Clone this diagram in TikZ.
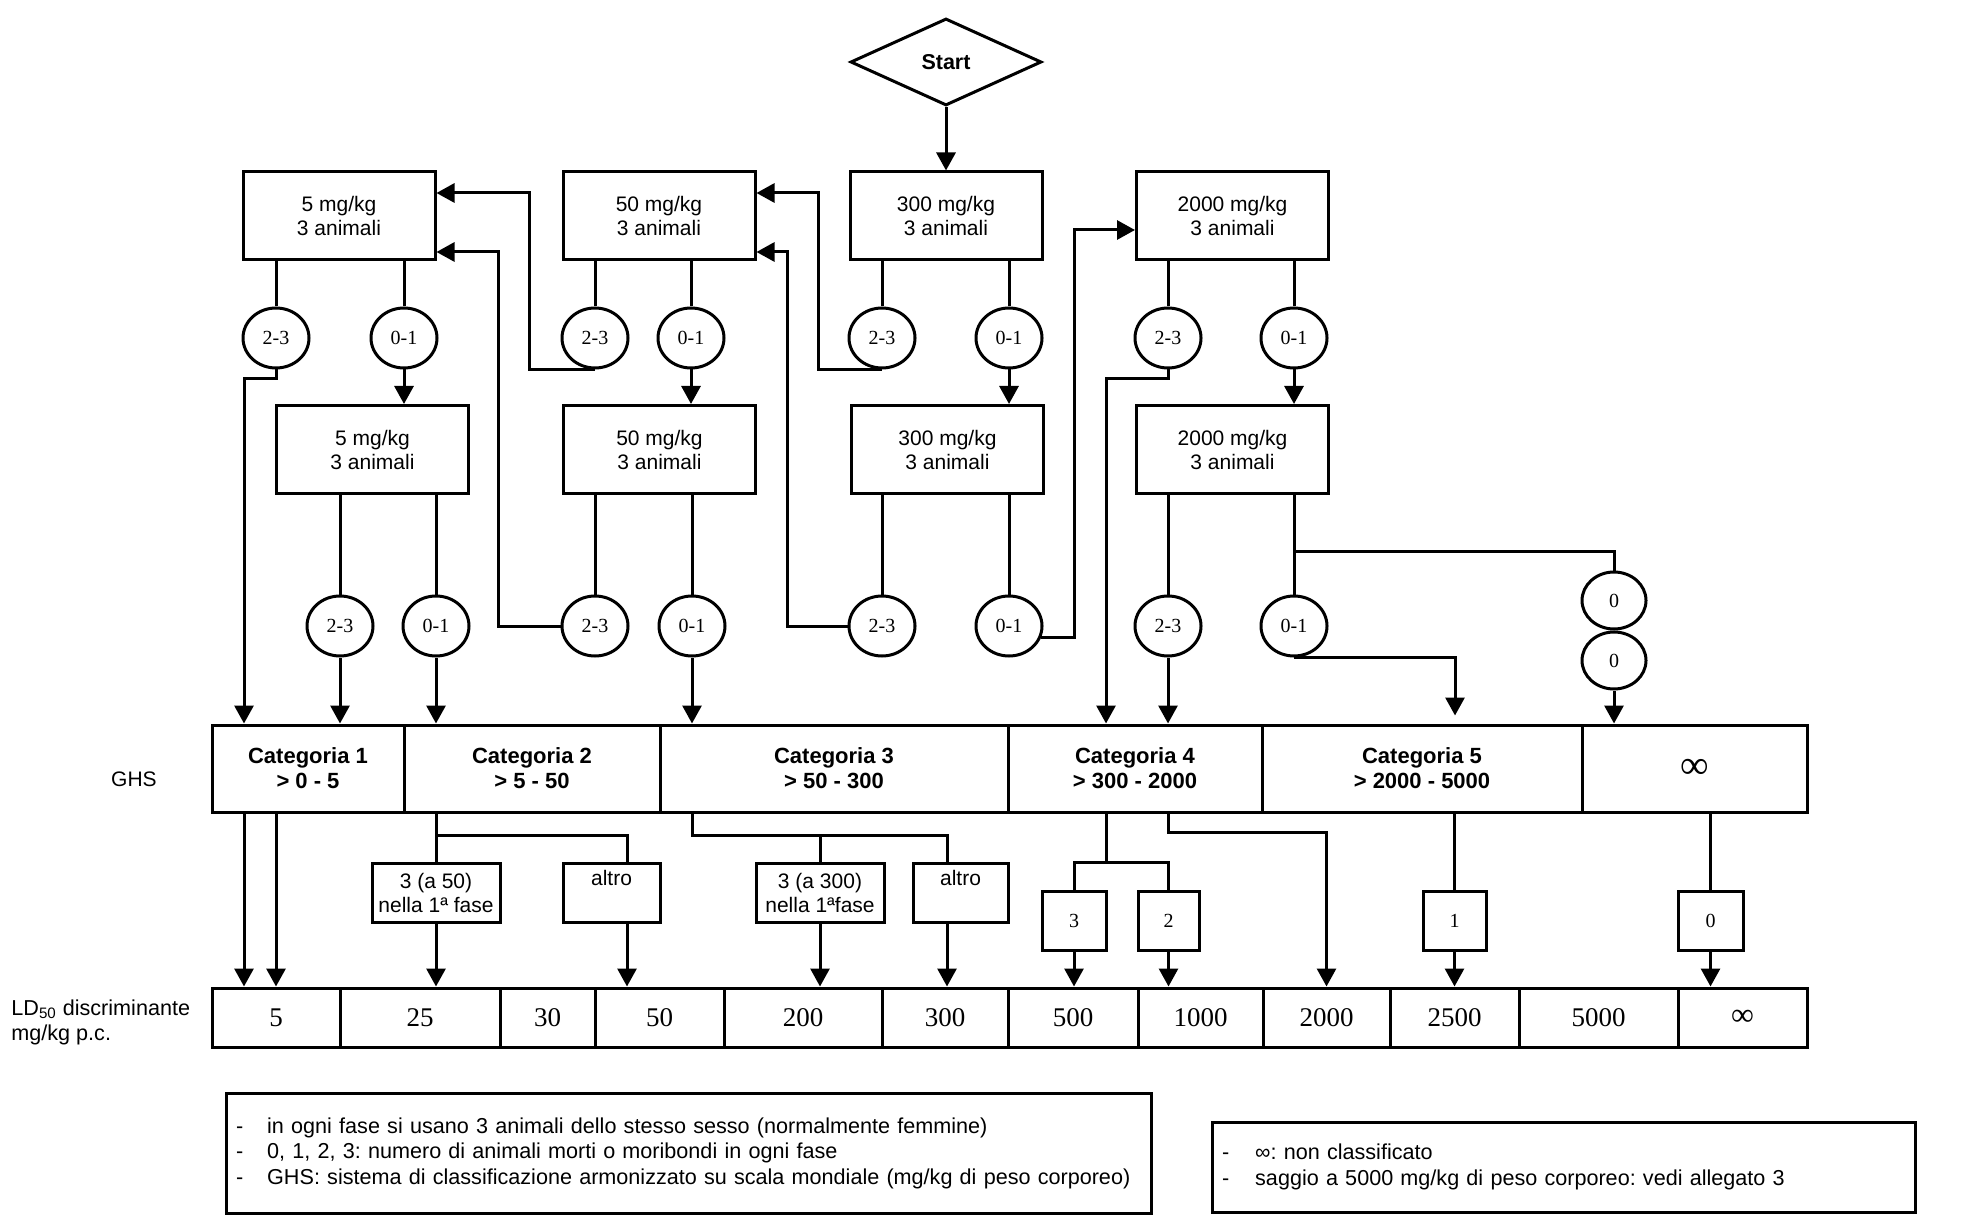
\documentclass[tikz,border=0pt]{standalone}
\usepackage{fontspec}
\setmainfont{Liberation Sans}
\newfontfamily\serifrm{Liberation Serif}
\usetikzlibrary{shapes.geometric,arrows.meta}
\newcommand\boxfont{\fontsize{10.5}{12}\selectfont}
\newcommand\catfont{\fontsize{11}{12.5}\selectfont\bfseries}
\newcommand\circfont{\serifrm\fontsize{10}{12}\selectfont}
\newcommand\ldfont{\serifrm\fontsize{13.5}{14}\selectfont}
\newcommand\legfont{\fontsize{10.8}{12.75}\selectfont}
\frenchspacing
\begin{document}
\begin{tikzpicture}[x=0.5pt,y=-0.5pt,
  ln/.style={line width=1.5pt},
  arr/.style={line width=1.5pt,-{Triangle[length=9pt,width=9.5pt]}},
  bx/.style={draw,line width=1.5pt,inner sep=0pt,align=center,font=\boxfont},
  dose/.style={bx,minimum width=96pt,minimum height=44pt},
  circ/.style={draw,line width=1.5pt,ellipse,minimum width=33pt,minimum height=30pt,inner sep=0pt,font=\circfont},
  cat/.style={bx,minimum height=43.5pt,font=\catfont},
  ld/.style={bx,minimum height=29.5pt,font=\ldfont},
  mid/.style={bx,minimum height=29.5pt},
  num/.style={bx,minimum height=29.5pt,font=\circfont},
  legend/.style={draw,line width=1.5pt,inner xsep=5pt,inner ysep=0pt,align=left,font=\legfont}
]
\useasboundingbox (0,0) rectangle (1969,1229);

% start
\node[draw,diamond,line width=1.5pt,minimum width=95.5pt,minimum height=43.5pt,inner sep=0pt,font=\fontsize{10.75}{12}\selectfont\bfseries] (start) at (946,62) {Start};

% dose boxes
\node[dose] (a1) at (339,216) {5 mg/kg\\3 animali};
\node[dose] (b1) at (659,216) {50 mg/kg\\3 animali};
\node[dose] (c1) at (946,216) {300 mg/kg\\3 animali};
\node[dose] (d1) at (1232.5,216) {2000 mg/kg\\3 animali};
\node[dose] (a2) at (372.5,449.5) {5 mg/kg\\3 animali};
\node[dose] (b2) at (659.5,449.5) {50 mg/kg\\3 animali};
\node[dose] (c2) at (947.5,449.5) {300 mg/kg\\3 animali};
\node[dose] (d2) at (1232.5,449.5) {2000 mg/kg\\3 animali};

% circles row 1
\node[circ] (a1l) at (276,338) {2-3};
\node[circ] (a1r) at (404,338) {0-1};
\node[circ] (b1l) at (595,338) {2-3};
\node[circ] (b1r) at (691,338) {0-1};
\node[circ] (c1l) at (882,338) {2-3};
\node[circ] (c1r) at (1009,338) {0-1};
\node[circ] (d1l) at (1168,338) {2-3};
\node[circ] (d1r) at (1294,338) {0-1};
% circles row 2
\node[circ] (a2l) at (340,626) {2-3};
\node[circ] (a2r) at (436,626) {0-1};
\node[circ] (b2l) at (595,626) {2-3};
\node[circ] (b2r) at (692,626) {0-1};
\node[circ] (c2l) at (882,626) {2-3};
\node[circ] (c2r) at (1009,626) {0-1};
\node[circ] (d2l) at (1168,626) {2-3};
\node[circ] (d2r) at (1294,626) {0-1};
% zero circles
\node[circ,minimum width=32pt,minimum height=28.5pt] (z1) at (1614,600.5) {0};
\node[circ,minimum width=32pt,minimum height=28.5pt,anchor=north] (z2) at (z1.south) {0};

% GHS categories
\node[cat,minimum width=96pt] (cat1) at (308,768.5) {Categoria 1\\> 0 - 5};
\node[cat,minimum width=128pt] (cat2) at (532,768.5) {Categoria 2\\> 5 - 50};
\node[cat,minimum width=174pt] (cat3) at (834,768.5) {Categoria 3\\> 50 - 300};
\node[cat,minimum width=127pt] (cat4) at (1135,768.5) {Categoria 4\\> 300 - 2000};
\node[cat,minimum width=160pt] (cat5) at (1422,768.5) {Categoria 5\\> 2000 - 5000};
\node[cat,minimum width=112.5pt,font=\serifrm\fontsize{20}{20}\selectfont] (catinf) at (1694.5,768.5) {∞};

% LD50 row
\node[ld,minimum width=64pt] (ld5) at (276,1017.5) {5};
\node[ld,minimum width=80pt] (ld25) at (420,1017.5) {25};
\node[ld,minimum width=47.5pt] (ld30) at (547.5,1017.5) {30};
\node[ld,minimum width=64.5pt] (ld50) at (659.5,1017.5) {50};
\node[ld,minimum width=79pt] (ld200) at (803,1017.5) {200};
\node[ld,minimum width=63pt] (ld300) at (945,1017.5) {300};
\node[ld,minimum width=65pt] (ld500) at (1073,1017.5) {500};
\node[ld,minimum width=62.5pt] (ld1000) at (1200.5,1017.5) {1000};
\node[ld,minimum width=63.5pt] (ld2000) at (1326.5,1017.5) {2000};
\node[ld,minimum width=64.5pt] (ld2500) at (1454.5,1017.5) {2500};
\node[ld,minimum width=79.5pt] (ld5000) at (1598.5,1017.5) {5000};
\node[ld,minimum width=64.5pt,font=\serifrm\fontsize{16}{16}\selectfont] (ldinf) at (1742.5,1017.5) {\raisebox{-2pt}{∞}};

% middle boxes
\node[mid,minimum width=64pt] (m1) at (436,892.5) {3 (a 50)\\nella 1ª fase};
\node[mid,minimum width=48.5pt,text depth=15pt] (m2) at (611.5,892.5) {altro};
\node[mid,minimum width=64pt] (m3) at (820,892.5) {3 (a 300)\\nella 1ªfase};
\node[mid,minimum width=47.5pt,text depth=15pt] (m4) at (960.5,892.5) {altro};
\node[num,minimum width=32pt] (n3) at (1074,920.5) {3};
\node[num,minimum width=30.5pt] (n2) at (1168.5,920.5) {2};
\node[num,minimum width=31.5pt] (n1) at (1454.5,920.5) {1};
\node[num,minimum width=32.5pt] (n0) at (1710.5,920.5) {0};

% side labels
\node[font=\fontsize{10.5}{12}\selectfont] (ghs) at (134,779) {GHS};
\node[anchor=west,align=left,inner sep=0pt,font=\fontsize{10.8}{12.5}\selectfont] (ldl) at (11,1022) {LD\textsubscript{50} discriminante\\mg/kg p.c.};

% legends
\node[legend,text width=452.5pt,minimum height=60pt] (leg1) at (688.5,1153) {-\hspace{12pt}in ogni fase si usano 3 animali dello stesso sesso (normalmente femmine)\\-\hspace{12pt}0, 1, 2, 3: numero di animali morti o moribondi in ogni fase\\-\hspace{12pt}GHS: sistema di classificazione armonizzato su scala mondiale (mg/kg di peso corporeo)};
\node[legend,text width=341.5pt,minimum height=45pt] (leg2) at (1563.5,1167) {-\hspace{13pt}∞: non classificato\\-\hspace{13pt}saggio a 5000 mg/kg di peso corporeo: vedi allegato 3};

% ---- connectors ----
\draw[arr] (start.south) -- (c1.north);
% box -> circles
\foreach \b/\c in {a1/a1l,a1/a1r,b1/b1l,b1/b1r,c1/c1l,c1/c1r,d1/d1l,d1/d1r,a2/a2l,a2/a2r,b2/b2l,b2/b2r,c2/c2l,c2/c2r,d2/d2l,d2/d2r}
  \draw[ln] (\c.north |- \b.south) -- (\c.north);
% 0-1 -> second stage
\foreach \c/\b in {a1r/a2,b1r/b2,c1r/c2,d1r/d2}
  \draw[arr] (\c.south) -- (\c.south |- \b.north);
% feedback arrows
\coordinate (k1) at (529,193);
\coordinate (k2) at (818,193);
\coordinate (k3) at (498,252);
\coordinate (k4) at (787,252);
\coordinate (k5) at (1074,230);
\draw[arr] (b1l.south) -| (k1) -- (k1 -| a1.east);
\draw[arr] (c1l.south) -| (k2) -- (k2 -| b1.east);
\draw[arr] (b2l.west) -| (k3) -- (k3 -| a1.east);
\draw[arr] (c2l.west) -| (k4) -- (k4 -| b1.east);
\draw[arr] (c2r.-20) -| (k5) -- (k5 -| d1.west);
% to categories
\coordinate (x1) at (244,0);
\coordinate (x2) at (1106,0);
\coordinate (x3) at (1455,0);
\coordinate (x4) at (276,0);
\draw[arr] (a1l.south) -- ++(0,9) -| (x1 |- cat1.north);
\draw[arr] (a2l.south) -- (a2l.south |- cat1.north);
\draw[arr] (a2r.south) -- (a2r.south |- cat2.north);
\draw[arr] (b2r.south) -- (b2r.south |- cat3.north);
\draw[arr] (d1l.south) -- ++(0,9) -| (x2 |- cat4.north);
\draw[arr] (d2l.south) -- (d2l.south |- cat4.north);
\draw[arr,shorten >=4pt] (d2r.south) -| (x3 |- cat5.north);
\coordinate (br) at (1294,551);
\draw[ln] (br) -| (z1.north);
\draw[arr] (z2.south) -- (z2.south |- catinf.north);

% categories -> LD50
\draw[arr] (x1 |- cat1.south) -- (x1 |- ld5.north);
\draw[arr] (x4 |- cat1.south) -- (x4 |- ld5.north);
\coordinate (j2) at (627,835);
\draw[ln] (m1.north |- cat2.south) -- (m1.north);
\draw[ln] (m1.north |- j2) -- (j2) -- (j2 |- m2.north);
\draw[arr] (m1.south) -- (m1.south |- ld25.north);
\draw[arr] (j2 |- m2.south) -- (j2 |- ld50.north);
\coordinate (j3a) at (692,835);
\coordinate (j3b) at (947,835);
\draw[ln] (j3a |- cat3.south) -- (j3a) -- (j3b) -- (j3b |- m4.north);
\draw[ln] (m3.north |- j3a) -- (m3.north);
\draw[arr] (m3.south) -- (m3.south |- ld200.north);
\draw[arr] (j3b |- m4.south) -- (j3b |- ld300.north);
\coordinate (j4) at (1106,862);
\draw[ln] (j4 |- cat4.south) -- (j4);
\draw[ln] (n3.north) -- (n3.north |- j4) -- (n2.north |- j4) -- (n2.north);
\draw[arr] (n3.south) -- (n3.south |- ld500.north);
\draw[arr] (n2.south) -- (n2.south |- ld1000.north);
\coordinate (j5) at (1168,832);
\draw[arr] (j5 |- cat4.south) -- (j5) -| (ld2000.north);
\draw[ln] (n1.north |- cat5.south) -- (n1.north);
\draw[arr] (n1.south) -- (n1.south |- ld2500.north);
\draw[ln] (n0.north |- catinf.south) -- (n0.north);
\draw[arr] (n0.south) -- (n0.south |- ldinf.north);
\end{tikzpicture}
\end{document}
